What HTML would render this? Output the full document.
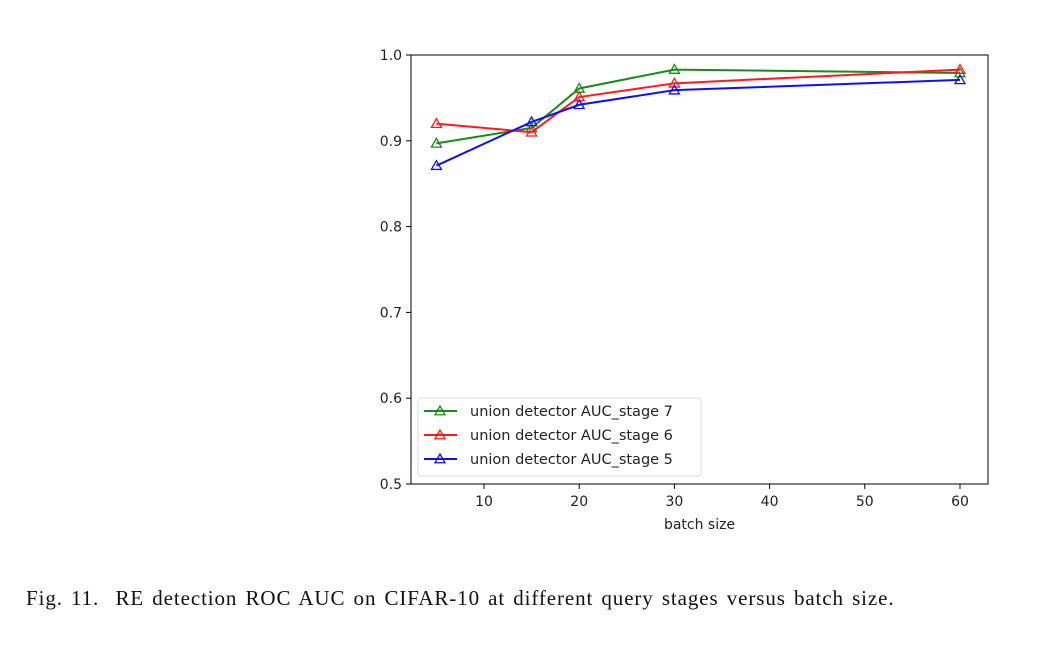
<!DOCTYPE html>
<html><head><meta charset="utf-8">
<style>
html,body{margin:0;padding:0;background:#fff;}
body{width:1050px;height:647px;position:relative;overflow:hidden;}
svg text{font-family:"DejaVu Sans","Liberation Sans",sans-serif;}
.cap{position:absolute;left:26px;top:586px;font-family:"Liberation Serif",serif;font-size:21px;letter-spacing:0.9px;word-spacing:2px;color:#111;white-space:nowrap;}
</style></head>
<body>
<svg id="chart" width="1050" height="647" style="position:absolute;left:0;top:0"></svg>
<div class="cap">Fig. 11.&nbsp; RE detection ROC AUC on CIFAR-10 at different query stages versus batch size.</div>
<script>
const batchSizes=[5,15,20,30,60];
const stage7=[0.897,0.915,0.961,0.983,0.979];
const stage6=[0.920,0.910,0.951,0.967,0.983];
const stage5=[0.871,0.922,0.942,0.959,0.971];
const xTicks=[10,20,30,40,50,60];
const yTicks=[0.5,0.6,0.7,0.8,0.9,1.0];
const seriesNames=["union detector AUC_stage 7","union detector AUC_stage 6","union detector AUC_stage 5"];

const L=411,R=988,T=55,B=484;
const xs=v=>484+(v-10)*(960-484)/50;
const ys=v=>B-(v-0.5)*(B-T)/0.5;
const NS="http://www.w3.org/2000/svg";
const svg=document.getElementById('chart');
function mk(tag,attrs,parent){const e=document.createElementNS(NS,tag);for(const k in attrs)e.setAttribute(k,attrs[k]);(parent||svg).appendChild(e);return e;}

const frame=mk('rect',{x:L,y:T,width:R-L,height:B-T,fill:'none',stroke:'#000','stroke-width':1});



xTicks.forEach(t=>{
  const x=xs(t);
  const l=mk('line',{x1:x,x2:x,y1:B,y2:B+5,stroke:'#000'});
  
  
  const tx=mk('text',{x:x,y:B+22,'text-anchor':'middle','font-size':14,fill:'#222'});
  tx.textContent=t;
  
  
});
yTicks.forEach(t=>{
  const y=ys(t);
  const l=mk('line',{x1:L-5,x2:L,y1:y,y2:y,stroke:'#000'});
  
  
  const tx=mk('text',{x:L-9,y:y+5,'text-anchor':'end','font-size':14,fill:'#222'});
  tx.textContent=t.toFixed(1);
  
  
});
const xl=mk('text',{x:(L+R)/2,y:529,'text-anchor':'middle','font-size':14,fill:'#222'});
xl.textContent='batch size';



function tri(x,y,c,parent){
  const s=5;
  return mk('polygon',{points:`${x},${y-s} ${x-s},${y+s*0.75} ${x+s},${y+s*0.75}`,fill:'none',stroke:c,'stroke-width':1.3},parent);
}
const series=[[stage7,'#1a8a1a'],[stage6,'#ff1a1a'],[stage5,'#1010ee']];
series.forEach(([vals,c],i)=>{
  const g=mk('g',{});
  
  
  const pts=vals.map((v,j)=>xs(batchSizes[j])+','+ys(v)).join(' ');
  const pl=mk('polyline',{points:pts,fill:'none',stroke:c,'stroke-width':2},g);
  
  
  vals.forEach((v,j)=>{
    const m=tri(xs(batchSizes[j]),ys(v),c,g);
    
    
  });
});

const lg=mk('g',{});


const lb=mk('rect',{x:418,y:398,width:283,height:78,rx:3,fill:'#fff',stroke:'#ddd'},lg);


series.forEach(([vals,c],i)=>{
  const y=411+i*24;
  const e=mk('g',{},lg);
  
  
  mk('line',{x1:424,x2:457,y1:y,y2:y,stroke:c,'stroke-width':2},e);
  tri(440,y,c,e);
  const t=mk('text',{x:470,y:y+5,'font-size':14.5,fill:'#222'},e);
  t.textContent=seriesNames[i];
});
</script>
</body></html>
